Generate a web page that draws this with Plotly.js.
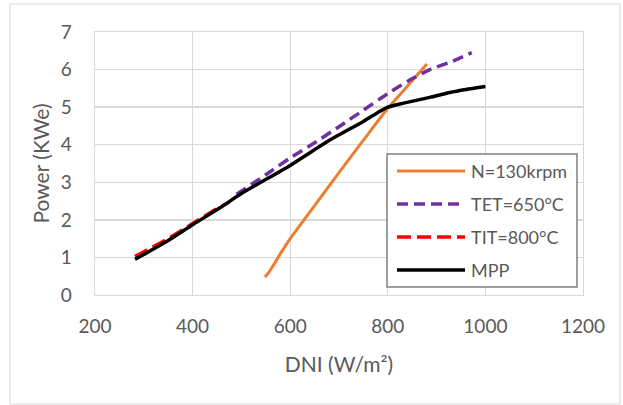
<!DOCTYPE html>
<html>
<head>
<meta charset="utf-8">
<script src="https://cdn.plot.ly/plotly-3.0.1.min.js"></script>
<style>
  html, body { margin: 0; padding: 0; background: #fff; }
  #chart { width: 623px; height: 405px; }
</style>
</head>
<body>
<div id="chart"></div>
<script>
// ---- data ----
const seriesNames = ["N=130krpm", "TET=650°C", "TIT=800°C", "MPP"];

const dniN130   = [548, 555, 565, 580, 600, 650, 700, 750, 800, 850, 880];
const powN130   = [0.48, 0.58, 0.78, 1.1, 1.5, 2.38, 3.26, 4.12, 4.97, 5.7, 6.15];

const dniTET    = [490, 550, 600, 650, 700, 750, 800, 845, 886, 933, 972];
const powTET    = [2.68, 3.2, 3.65, 4.05, 4.48, 4.92, 5.36, 5.72, 6.0, 6.22, 6.45];

const dniTIT    = [282, 300, 350, 400, 450, 475];
const powTIT    = [1.03, 1.15, 1.5, 1.9, 2.3, 2.47];

const dniMPP    = [282, 300, 350, 400, 456, 500, 600, 682, 750, 780, 800, 830, 886, 927, 960, 1000];
const powMPP    = [0.95, 1.08, 1.45, 1.87, 2.32, 2.7, 3.45, 4.13, 4.62, 4.86, 5.0, 5.1, 5.26, 5.39, 5.47, 5.55];

const xTicks = [200, 400, 600, 800, 1000, 1200];
const yTicks = [0, 1, 2, 3, 4, 5, 6, 7];

// ---- styles ----
const colors = ["#ED7D31", "#7030A0", "#FF0000", "#000000"];
const dashes = ["solid", "11px,6px", "14px,6px", "solid"];
const widths = [3, 3.5, 3.5, 3.5];
const xs = [dniN130, dniTET, dniTIT, dniMPP];
const ys = [powN130, powTET, powTIT, powMPP];

const W = 623, H = 405;
const M = { l: 95, r: 40, t: 32, b: 110 };
const PW = W - M.l - M.r, PH = H - M.t - M.b;
const px = x => (x - M.l) / PW;
const py = y => (H - M.b - y) / PH;

const textColor = "#595959";
const fontFam = "Lato, 'Open Sans', sans-serif";

const traces = seriesNames.map((n, i) => ({
  x: xs[i], y: ys[i], name: n, type: "scatter", mode: "lines",
  line: { color: colors[i], width: widths[i], dash: dashes[i], shape: "spline", smoothing: 0.6 },
  hoverinfo: "skip", showlegend: false
}));

// custom legend (Excel-like)
const shapes = [
  { type: "rect", xref: "paper", yref: "paper", layer: "below",
    x0: px(10), x1: px(620), y0: py(404), y1: py(4),
    line: { color: "#d9d9d9", width: 1 }, fillcolor: "rgba(0,0,0,0)" },
  { type: "rect", xref: "paper", yref: "paper", layer: "above",
    x0: px(387), x1: px(577), y0: py(287), y1: py(154),
    line: { color: "#808080", width: 1.5 }, fillcolor: "#ffffff" }
];
const annotations = [];
const legY = [171, 204, 237, 270];
seriesNames.forEach((n, i) => {
  shapes.push({ type: "line", xref: "paper", yref: "paper", layer: "above",
    x0: px(397), x1: px(465), y0: py(legY[i]), y1: py(legY[i]),
    line: { color: colors[i], width: widths[i], dash: dashes[i] } });
  annotations.push({ xref: "paper", yref: "paper", x: px(469), y: py(legY[i]),
    xanchor: "left", yanchor: "middle", showarrow: false, text: n,
    font: { family: fontFam, size: 18, color: textColor } });
});

const layout = {
  width: W, height: H,
  margin: M,
  paper_bgcolor: "#ffffff", plot_bgcolor: "#ffffff",
  showlegend: false,
  font: { family: fontFam, color: textColor },
  xaxis: {
    range: [200, 1200], tickvals: xTicks, ticktext: xTicks.map(String),
    showgrid: true, gridcolor: "#d9d9d9", gridwidth: 1.3,
    showline: true, linecolor: "#d9d9d9", linewidth: 1.3, mirror: true, zeroline: false,
    ticks: "outside", ticklen: 14, tickcolor: "rgba(0,0,0,0)",
    tickfont: { family: fontFam, size: 19, color: textColor },
    title: { text: "DNI (W/m²)", font: { family: fontFam, size: 21, color: textColor }, standoff: 21 }
  },
  yaxis: {
    range: [0, 7], tickvals: yTicks, ticktext: yTicks.map(String),
    showgrid: true, gridcolor: "#d9d9d9", gridwidth: 1.3,
    showline: true, linecolor: "#d9d9d9", linewidth: 1.3, mirror: true, zeroline: false,
    ticks: "outside", ticklen: 18, tickcolor: "rgba(0,0,0,0)",
    tickfont: { family: fontFam, size: 19, color: textColor },
    title: { text: "Power (KWe)", font: { family: fontFam, size: 21, color: textColor }, standoff: 5 }
  },
  shapes: shapes,
  annotations: annotations
};

Plotly.newPlot("chart", traces, layout, { staticPlot: true, displayModeBar: false });
</script>
</body>
</html>
